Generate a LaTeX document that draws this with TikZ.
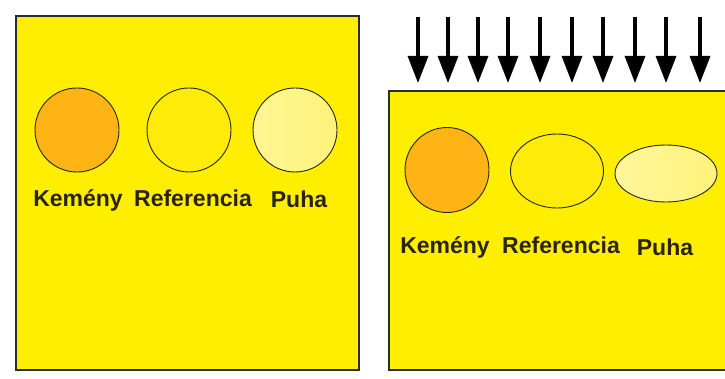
\documentclass[tikz,border=0pt]{standalone}
\usepackage{fontspec}
\setmainfont{Liberation Sans}
\usetikzlibrary{shapes.geometric,arrows.meta}
\definecolor{bgyellow}{HTML}{FFEE00}
\definecolor{hardorange}{HTML}{FDB414}
\definecolor{refyellow}{HTML}{FFEA08}
\definecolor{softyellow}{HTML}{FFF37A}
\definecolor{edgegray}{HTML}{2B2B2B}
\definecolor{labelcol}{HTML}{2A2400}
\tikzset{
  panel/.style={fill=bgyellow, draw=edgegray, line width=1.6pt},
  ball/.style={ellipse, draw=black!85, line width=0.9pt, inner sep=0pt},
  lbl/.style={anchor=base, font=\bfseries\fontsize{23}{25}\selectfont, text=labelcol, inner sep=0pt},
  pressarrow/.style={line width=3.2pt, -{Triangle[length=27pt,width=20pt]}}
}
\begin{document}
\begin{tikzpicture}[x=1pt,y=-1pt]
\useasboundingbox (0,0) rectangle (725,379);
\fill[white] (0,0) rectangle (725,379);
% left panel
\draw[panel] (16,16) rectangle (359,370);
% right panel
\fill[bgyellow] (389,91) rectangle (725,370);
\draw[edgegray, line width=1.6pt] (727,91) -- (389,91) -- (389,370) -- (727,370);
% left balls
\node[ball, fill=hardorange, minimum width=84pt, minimum height=84pt] (lhard) at (77,130) {};
\node[ball, fill=refyellow, minimum width=84pt, minimum height=84pt] (lref) at (189,130) {};
\node[ball, left color=softyellow!80!white, right color=softyellow, minimum width=84pt, minimum height=84pt] (lsoft) at (295,130) {};
\node[lbl] (lhardtxt) at (78,207) {Kemény};
\node[lbl] (lreftxt) at (193,207) {Referencia};
\node[lbl] (lsofttxt) at (299,208) {Puha};
% right balls
\node[ball, fill=hardorange, minimum width=84pt, minimum height=85pt] (rhard) at (447,170) {};
\node[ball, fill=refyellow, minimum width=93pt, minimum height=74pt] (rref) at (557,171) {};
\node[ball, left color=softyellow!75!white, right color=softyellow, minimum width=102pt, minimum height=57pt] (rsoft) at (666,173.5) {};
\node[lbl] (rhardtxt) at (445,254) {Kemény};
\node[lbl] (rreftxt) at (561,254) {Referencia};
\node[lbl] (rsofttxt) at (665,256) {Puha};
% arrows
\foreach \i/\x in {1/418,2/448,3/478,4/508,5/540,6/572,7/603,8/635,9/666,10/700}{
  \coordinate (a\i) at (\x,17);
  \coordinate (b\i) at (\x,83);
  \draw[pressarrow] (a\i) -- (b\i);
}
\end{tikzpicture}
\end{document}
